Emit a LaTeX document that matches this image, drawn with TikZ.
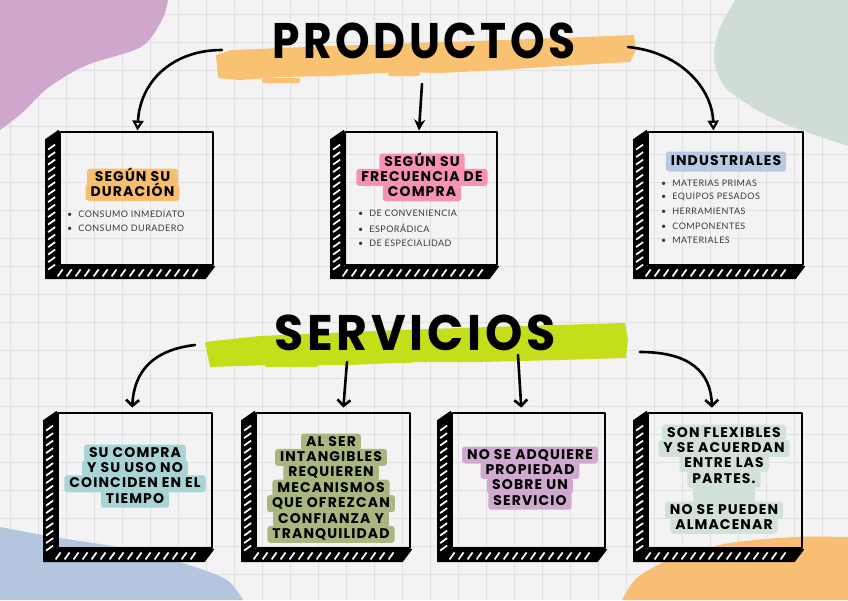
\documentclass[tikz,border=0pt]{standalone}
\usepackage{fontspec}
\setmainfont{Lato}
\newfontfamily\handfont{Poppins}[LetterSpace=8]
\newfontfamily\listfont{Lato}[LetterSpace=5]
\usetikzlibrary{arrows.meta,calc,positioning}
\definecolor{paper}{HTML}{F3F3F3}
\definecolor{gridgray}{HTML}{E0E0E0}
\definecolor{blobpurple}{HTML}{CFA7CD}
\definecolor{blobmint}{HTML}{CFDDD5}
\definecolor{blobblue}{HTML}{B4C6DE}
\definecolor{blobpeach}{HTML}{F8BF74}
\definecolor{brushorange}{HTML}{F9C172}
\definecolor{brushlime}{HTML}{C5DE1A}
\definecolor{tagorange}{HTML}{F8BE70}
\definecolor{tagpink}{HTML}{F592B5}
\definecolor{tagblue}{HTML}{B8CAE1}
\definecolor{tagteal}{HTML}{A8D4D6}
\definecolor{tagolive}{HTML}{A9B67F}
\definecolor{tagpurple}{HTML}{D0A9D0}
\definecolor{tagmint}{HTML}{D3E2D8}
\definecolor{listgray}{HTML}{3A3A3A}

\tikzset{
  gridline/.style={draw=gridgray, line width=1pt},
  frontbox/.style={draw=black, line width=2.8pt, inner sep=0pt, line join=round},
  sidestrip/.style={fill=black, draw=black, line width=1.2pt, line join=round},
  hatchmark/.style={white, line width=1.7pt},
  link/.style={draw=black, line width=2.6pt, line cap=round},
  tagline/.style={rounded corners=3pt, inner xsep=5pt, inner ysep=2.5pt, text height=10pt, text depth=2pt, font=\handfont\bfseries\fontsize{14}{15}\selectfont},
  bulletline/.style={anchor=west, inner sep=0pt, text=listgray, font=\listfont\fontsize{9}{10}\selectfont},
  titletext/.style={font=\handfont\bfseries\fontsize{50}{50}\selectfont, inner sep=0pt}
}

\begin{document}
\begin{tikzpicture}[x=1pt, y=-1pt]
  \useasboundingbox (0,0) rectangle (848,600);
  \fill[paper] (0,0) rectangle (848,600);

  % squared paper
  \foreach \gx in {10,38,...,848} \draw[gridline] (\gx,0) -- (\gx,600);
  \foreach \gy in {14,42,...,600} \draw[gridline] (0,\gy) -- (848,\gy);

  % corner blobs
  \fill[blobpurple] (0,0) -- plot[smooth] coordinates {(168,0) (162,20) (141,47) (87,65) (49,87) (22,113) (0,130)} -- cycle;
  \fill[blobmint] (848,0) -- plot[smooth] coordinates {(735,0) (719,30) (714,60) (725,87) (757,110) (795,128) (848,146)} -- cycle;
  \fill[blobblue] (0,600) -- plot[smooth] coordinates {(0,527) (54,537) (135,550) (189,565) (227,580) (243,600)} -- cycle;
  \fill[blobpeach] (848,600) -- plot[smooth] coordinates {(622,600) (638,577) (676,557) (730,543) (795,537) (848,537)} -- cycle;

  % brush strokes behind the titles
  \fill[brushorange] (216,55) -- (232,50) -- (330,46) -- (450,42) -- (560,38) -- (634,35) -- (636,50) -- (630,62)
    -- (560,66) -- (500,70) -- (440,73) -- (400,72) -- (330,76) -- (280,77) -- (240,80) -- (218,78) -- cycle;
  \fill[brushorange, rounded corners=1.5pt] (262,78) rectangle (300,83);
  \fill[brushorange, rounded corners=1.5pt] (388,72) rectangle (420,76);
  \fill[brushlime] (205,342) -- (260,336) -- (400,330) -- (520,326) -- (625,323) -- (628,340) -- (626,358)
    -- (560,360) -- (480,362) -- (420,362) -- (350,365) -- (270,365) -- (210,367) -- cycle;
  \fill[brushlime, rounded corners=1.5pt] (265,362) rectangle (318,367);
  \fill[brushlime, rounded corners=1.5pt] (392,359) rectangle (412,363);

  \node[titletext] (prod) at (424,40.5) {\scalebox{0.88}[1]{PRODUCTOS}};
  \node[titletext] (serv) at (415,333) {\scalebox{0.95}[1]{SERVICIOS}};

  % sketched boxes
  \foreach \nm/\cx/\cy/\w/\h in {pa/136.5/198.5/153/133, pb/421/198.5/152/133, pc/725.5/198.5/155/133,
      sa/135/480.5/154/135, sb/333/480.5/154/135, sc/528.5/480.5/153/135, sd/725/480.5/154/135}{
    \node[frontbox, minimum width=\w pt, minimum height=\h pt] (\nm) at (\cx,\cy) {};
    \fill[sidestrip] (\nm.north west) -- ++(-13,9) -- ($(\nm.south west)+(-13,12)$) -- ($(\nm.south east)+(-9,12)$)
      -- (\nm.south east) -- (\nm.south west) -- cycle;
    \pgfmathsetmacro\hend{\h+3}
    \pgfmathsetmacro\wend{\w-14}
    \foreach \t in {16,23.5,...,\hend} \draw[hatchmark] ($(\nm.north west)+(-10.5,\t+3)$) -- ++(7,-5);
    \foreach \s in {-1,8,...,\wend} \draw[hatchmark] ($(\nm.south west)+(\s,10)$) -- ++(5,-7);
  }

  % connectors
  \coordinate (pl) at (222,50);
  \coordinate (pm) at (422,84);
  \coordinate (pr) at (628,47);
  \coordinate (sl) at (195,345);
  \coordinate (sm1) at (347,362);
  \coordinate (sm2) at (518,355);
  \coordinate (sr) at (640,352);

  \draw[link, -{Triangle[open, length=10pt, width=11pt, line width=2.2pt]}] (pl) .. controls (172,50) and (140,82) .. ([xshift=1pt]pa.north);
  \draw[link, -{Stealth[length=11pt, width=11pt]}] (pm) -- ([xshift=-2pt]pb.north);
  \draw[link, -{Triangle[open, length=10pt, width=11pt, line width=2.2pt]}] (pr) .. controls (680,52) and (712,88) .. ([xshift=-12pt]pc.north);

  \draw[link, -{Straight Barb[length=6pt, width=13pt]}, shorten >=4pt] (sl) .. controls (152,350) and (134,372) .. ([xshift=-3pt]sa.north);
  \draw[link, -{Straight Barb[length=6pt, width=13pt]}, shorten >=4pt] (sm1) -- ([xshift=10pt]sb.north);
  \draw[link, -{Straight Barb[length=6pt, width=13pt]}, shorten >=4pt] (sm2) -- ([xshift=-7pt]sc.north);
  \draw[link, -{Straight Barb[length=6pt, width=13pt]}, shorten >=4pt] (sr) .. controls (690,352) and (711,372) .. ([xshift=-13pt]sd.north);

  % productos labels
  \node[tagline, fill=tagorange, minimum width=91pt] (pa1) at (132.5,177) {SEGÚN SU};
  \node[tagline, fill=tagorange, minimum width=91pt, below=-2pt of pa1] (pa2) {DURACIÓN};
  \node[bulletline] (pa3) at (67,214) {\textbullet\hspace{6pt}CONSUMO INMEDIATO};
  \node[bulletline] (pa4) at (67,228) {\textbullet\hspace{6pt}CONSUMO DURADERO};

  \node[tagline, fill=tagpink] (pb1) at (422,162) {SEGÚN SU};
  \node[tagline, fill=tagpink, below=-2pt of pb1] (pb2) {FRECUENCIA DE};
  \node[tagline, fill=tagpink, below=-2pt of pb2] (pb3) {COMPRA};
  \node[bulletline] (pb4) at (358,213) {\textbullet\hspace{6pt}DE CONVENIENCIA};
  \node[bulletline] (pb5) at (358,228) {\textbullet\hspace{6pt}ESPORÁDICA};
  \node[bulletline] (pb6) at (358,243) {\textbullet\hspace{6pt}DE ESPECIALIDAD};

  \node[tagline, fill=tagblue, inner ysep=4pt] (pc1) at (726,161.5) {INDUSTRIALES};
  \node[bulletline] (pc2) at (661,183) {\textbullet\hspace{6pt}MATERIAS PRIMAS};
  \node[bulletline] (pc3) at (661,197) {\textbullet\hspace{6pt}EQUIPOS PESADOS};
  \node[bulletline] (pc4) at (661,211) {\textbullet\hspace{6pt}HERRAMIENTAS};
  \node[bulletline] (pc5) at (661,226) {\textbullet\hspace{6pt}COMPONENTES};
  \node[bulletline] (pc6) at (661,240) {\textbullet\hspace{6pt}MATERIALES};

  % servicios labels
  \node[tagline, fill=tagteal] (sa1) at (135,453) {SU COMPRA};
  \node[tagline, fill=tagteal, below=-2pt of sa1] (sa2) {Y SU USO NO};
  \node[tagline, fill=tagteal, below=-2pt of sa2] (sa3) {COINCIDEN EN EL};
  \node[tagline, fill=tagteal, below=-2pt of sa3] (sa4) {TIEMPO};

  \node[tagline, fill=tagolive] (sb1) at (331,442) {AL SER};
  \node[tagline, fill=tagolive, below=-2pt of sb1] (sb2) {INTANGIBLES};
  \node[tagline, fill=tagolive, below=-2pt of sb2] (sb3) {REQUIEREN};
  \node[tagline, fill=tagolive, below=-2pt of sb3] (sb4) {MECANISMOS};
  \node[tagline, fill=tagolive, below=-2pt of sb4] (sb5) {QUE OFREZCAN};
  \node[tagline, fill=tagolive, below=-2pt of sb5] (sb6) {CONFIANZA Y};
  \node[tagline, fill=tagolive, below=-2pt of sb6] (sb7) {TRANQUILIDAD};

  \node[tagline, fill=tagpurple] (sc1) at (530,455) {NO SE ADQUIERE};
  \node[tagline, fill=tagpurple, below=-2pt of sc1] (sc2) {PROPIEDAD};
  \node[tagline, fill=tagpurple, below=-2pt of sc2] (sc3) {SOBRE UN};
  \node[tagline, fill=tagpurple, below=-2pt of sc3] (sc4) {SERVICIO};

  \node[tagline, fill=tagmint] (sd1) at (724,433) {SON FLEXIBLES};
  \node[tagline, fill=tagmint, below=-2pt of sd1] (sd2) {Y SE ACUERDAN};
  \node[tagline, fill=tagmint, below=-2pt of sd2] (sd3) {ENTRE LAS};
  \node[tagline, fill=tagmint, below=-2pt of sd3] (sd4) {PARTES.};
  \node[tagline, fill=tagmint, below=-2pt of sd4, minimum width=62pt] (sd5) {};
  \node[tagline, fill=tagmint, below=-2pt of sd5] (sd6) {NO SE PUEDEN};
  \node[tagline, fill=tagmint, below=-2pt of sd6] (sd7) {ALMACENAR};
\end{tikzpicture}
\end{document}
